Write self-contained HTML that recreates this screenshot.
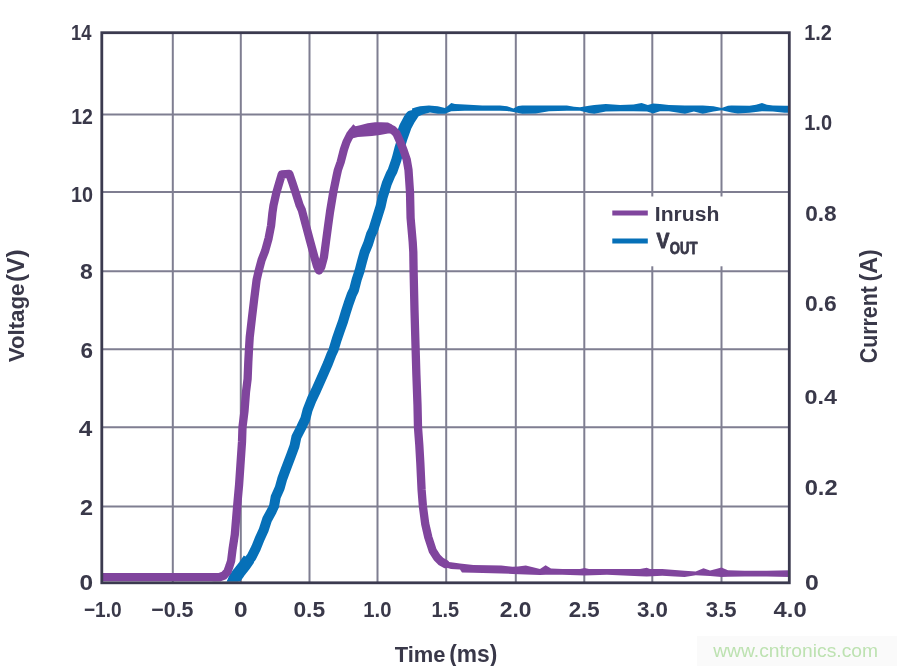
<!DOCTYPE html>
<html><head><meta charset="utf-8"><style>
html,body{margin:0;padding:0;background:#fff;}
body{width:897px;height:666px;overflow:hidden;}
svg{display:block;will-change:transform;}
</style></head><body>
<svg width="897" height="666" viewBox="0 0 897 666">
<rect width="897" height="666" fill="#fff"/>
<path d="M172.8,32.7V582.8M240.8,32.7V582.8M309.5,32.7V582.8M377.5,32.7V582.8M446.2,32.7V582.8M515.8,32.7V582.8M584.3,32.7V582.8M652.3,32.7V582.8M721.5,32.7V582.8M101.8,114.6H789.3M101.8,191.9H789.3M101.8,271.35H789.3M101.8,349.2H789.3M101.8,427.3H789.3M101.8,506.5H789.3" stroke="#7f7e91" stroke-width="2" fill="none"/>
<rect x="586" y="196.5" width="202" height="69.8" fill="#fff"/>
<defs><clipPath id="pc"><rect x="101" y="30" width="689" height="551.5"/></clipPath></defs><g clip-path="url(#pc)">
<polyline points="231.5,584 234.5,578.5 238.8,572.8 245,565 251.5,557 256,548 259.6,539 263.7,530 267.1,519.5 272,510.5 274.1,506 275.7,497 279.7,488 282.2,479 285.5,470 291.2,455 294.5,446 296.4,437 301,428 305.3,419 307.6,410 311.7,399.5 316,390.5 320,381.5 324,372.5 327.9,363.5 331.4,354.5 333.5,350 336.7,339.5 339.8,330.5 343,321.5 345.7,312.5 348.6,303.5 351.8,294.5 354,290 356.7,279.5 359.4,271.4 362,261.5 364.5,252.5 368.2,243.5 371,234.5 373.2,230 376.5,219.5 380.7,206 382.7,197 384.1,192.5 386.8,183.5 390.6,174.5 392.5,171 396.5,159.5 399.5,148 402.7,137.8 406.5,127 410.5,119.5 413.5,115" fill="none" stroke="#0670b8" stroke-width="10" stroke-linejoin="round" stroke-linecap="round"/>
<polyline points="232,585 235,578 239,572.5 244.5,565.5 249,559" fill="none" stroke="#0670b8" stroke-width="12.5" stroke-linejoin="round" stroke-linecap="butt"/>
<polygon points="412,108.5 416,107.3 420,106.3 428.9,105.4 437.8,106.3 445,108 449,105 451.2,103.1 455,104 464.6,104.5 482.4,105.4 500,105.6 507.1,106.3 513.4,108.5 518,106 522.3,105.4 535.7,105.4 549,105.4 566.9,105.4 574,106.7 580,107.2 588.9,105.8 594.3,104.9 605.9,104 620.1,104.9 633.5,104.5 641.6,103.1 647.8,104.9 653.1,103.6 660,104 668.9,104.9 685,105.4 702.8,105.4 713.5,106.3 721.6,108 728,105.8 731.4,105.4 749.5,105.8 756,104.8 762,103 767,104.8 772.9,105.4 784.6,105.8 792,105.8 792,112.8 784.6,112.8 772.9,111.6 762,111.2 749.5,112.8 737.8,113.6 731.4,112.5 721.6,110.3 713.5,111.6 702.8,113.8 693.9,111.6 685,113.8 668.9,111.2 660,111.2 653.1,113.4 647,111.5 633.5,111.2 620.1,111.2 605.9,111.6 594.3,113.8 588.9,113 580,110.7 566.9,110.7 549,111.2 535.7,113.4 522.3,113.8 513.4,112.1 507.1,110.9 500,110.7 482.4,110.7 464.6,110.7 451.2,111.2 445,113.8 437.8,113.8 430,112.5 424,114 418,116.5 413,119" fill="#0670b8"/>
<polyline points="401,137 404.5,127 408.5,119.5 411,116" fill="none" stroke="#0670b8" stroke-width="11" stroke-linejoin="round" stroke-linecap="round"/>
<polyline points="100,577.3 221,577.3" fill="none" stroke="#80459d" stroke-width="8.6" stroke-linejoin="round" stroke-linecap="butt"/>
<polyline points="214,577.3 220,577 224,575.5 227.5,571.5 229.5,566 231.1,561 232.6,549 234.8,534.6 236,520 237.2,505.7 239.1,484.6 240.4,465.5 242,442 242.5,427 244.5,411 246,392 247.6,379 248.3,362 249,349 249.7,337.4 251.9,318.3 254.2,299 256.6,280 258.7,270.8 261.6,260 265.1,251 268.6,238.3 271.1,225.5 272.4,213 273.5,205.4 276.5,192.2 279.2,183 281.8,174.3 289.3,173.8 292.3,182.5 295.5,192.2 299.7,205.4 301.8,210 306,225.8 310.2,241.5 314.5,257.3 317,266 319,270.5 321.3,267 323.9,257.3 326,241.5 328.1,225.8 330,212 333.3,192 336.5,176.3 337.9,170 340.7,162 343.9,149.6 346.5,142 350,135 353,131 360,131 367.6,129.6 375,128.7 380,128.6 388,128.3 392.5,129.5 396.5,133.5 400.8,143.2 403.8,151 406.7,159.5 408.5,170 410,192.2 410.6,218 412.7,242 413.3,252 413.6,271 414.5,310 415.5,345 416.4,375 417.5,405 418,427.6 419.3,445 420.3,462.5 421.6,490 422.9,506.2 425.2,523.8 428.3,537.3 432.7,550.8 437,557.5 441,561.5 445.5,564" fill="none" stroke="#80459d" stroke-width="8.3" stroke-linejoin="round" stroke-linecap="round"/>
<polygon points="346,140 349,131 351.5,126.5 353.3,124.2 355.5,126.3 360,125.2 367.6,123.3 375,122.3 381,122.2 388,122.6 392,124.5 395,128.5 394,133.5 388,133.6 380,135 372,136 365,136.5 358,137 352,138.5 348,141" fill="#80459d"/>
<polygon points="441,558 446,561.8 451,562.2 460,563.5 473.4,565 501.3,565.6 512.5,566.7 518,566.5 525.8,565.6 532,567 540,569 545.6,565.2 551,568.5 562.3,569.1 580,569 584.6,568 589,569.1 606.9,569.1 640,569.1 646.7,567.8 650,569.1 662.3,569.1 675,570 684.6,570.8 695.7,571.4 703.5,568.3 710,570.5 716,569 721.4,567.5 728,570.3 744.6,570.8 766.9,570.8 792,570.3 792,577 766.9,576.4 744.6,576.4 728,576.8 721.4,577 710,576 695.7,575.3 684.6,577 675,576.4 662.3,575.8 646.7,576.4 640,576.2 606.9,574.7 584.6,575.6 562.3,574.7 545.6,574.7 540,575 525.8,574.5 512.5,574 501.3,573.4 473.4,572.8 462,572.5 460,569.5 451,568.9 446,567.5 441,565" fill="#80459d"/>
</g>
<rect x="101.8" y="32.7" width="687.5" height="550.0999999999999" fill="none" stroke="#3b3a4f" stroke-width="2.8"/>
<rect x="697" y="636" width="200" height="30" fill="#fafafa"/>
<text transform="translate(71.00,39.50) scale(0.1838,0.2203)" font-family="&quot;Liberation Sans&quot;, sans-serif" font-weight="bold" font-size="100" fill="#393849">14</text>
<text transform="translate(71.13,123.50) scale(0.1950,0.2243)" font-family="&quot;Liberation Sans&quot;, sans-serif" font-weight="bold" font-size="100" fill="#393849">12</text>
<text transform="translate(71.01,201.60) scale(0.1980,0.2286)" font-family="&quot;Liberation Sans&quot;, sans-serif" font-weight="bold" font-size="100" fill="#393849">10</text>
<text transform="translate(80.11,279.10) scale(0.2300,0.2186)" font-family="&quot;Liberation Sans&quot;, sans-serif" font-weight="bold" font-size="100" fill="#393849">8</text>
<text transform="translate(80.60,357.70) scale(0.2250,0.2186)" font-family="&quot;Liberation Sans&quot;, sans-serif" font-weight="bold" font-size="100" fill="#393849">6</text>
<text transform="translate(78.71,435.50) scale(0.2434,0.2188)" font-family="&quot;Liberation Sans&quot;, sans-serif" font-weight="bold" font-size="100" fill="#393849">4</text>
<text transform="translate(80.10,514.50) scale(0.2347,0.2214)" font-family="&quot;Liberation Sans&quot;, sans-serif" font-weight="bold" font-size="100" fill="#393849">2</text>
<text transform="translate(79.62,589.80) scale(0.2447,0.2157)" font-family="&quot;Liberation Sans&quot;, sans-serif" font-weight="bold" font-size="100" fill="#393849">0</text>
<text transform="translate(804.20,39.70) scale(0.1992,0.2200)" font-family="&quot;Liberation Sans&quot;, sans-serif" font-weight="bold" font-size="100" fill="#393849">1.2</text>
<text transform="translate(804.20,130.30) scale(0.2008,0.2157)" font-family="&quot;Liberation Sans&quot;, sans-serif" font-weight="bold" font-size="100" fill="#393849">1.0</text>
<text transform="translate(805.19,220.90) scale(0.2265,0.2143)" font-family="&quot;Liberation Sans&quot;, sans-serif" font-weight="bold" font-size="100" fill="#393849">0.8</text>
<text transform="translate(804.99,311.20) scale(0.2282,0.2186)" font-family="&quot;Liberation Sans&quot;, sans-serif" font-weight="bold" font-size="100" fill="#393849">0.6</text>
<text transform="translate(804.47,403.60) scale(0.2333,0.2114)" font-family="&quot;Liberation Sans&quot;, sans-serif" font-weight="bold" font-size="100" fill="#393849">0.4</text>
<text transform="translate(804.65,494.50) scale(0.2374,0.2186)" font-family="&quot;Liberation Sans&quot;, sans-serif" font-weight="bold" font-size="100" fill="#393849">0.2</text>
<text transform="translate(804.90,589.80) scale(0.2489,0.2157)" font-family="&quot;Liberation Sans&quot;, sans-serif" font-weight="bold" font-size="100" fill="#393849">0</text>
<text transform="translate(83.94,616.60) scale(0.1910,0.2171)" font-family="&quot;Liberation Sans&quot;, sans-serif" font-weight="bold" font-size="100" fill="#393849">−1.0</text>
<text transform="translate(151.35,616.60) scale(0.2136,0.2171)" font-family="&quot;Liberation Sans&quot;, sans-serif" font-weight="bold" font-size="100" fill="#393849">−0.5</text>
<text transform="translate(234.02,616.60) scale(0.2447,0.2171)" font-family="&quot;Liberation Sans&quot;, sans-serif" font-weight="bold" font-size="100" fill="#393849">0</text>
<text transform="translate(293.39,616.60) scale(0.2280,0.2171)" font-family="&quot;Liberation Sans&quot;, sans-serif" font-weight="bold" font-size="100" fill="#393849">0.5</text>
<text transform="translate(363.29,616.60) scale(0.2023,0.2171)" font-family="&quot;Liberation Sans&quot;, sans-serif" font-weight="bold" font-size="100" fill="#393849">1.0</text>
<text transform="translate(431.50,616.60) scale(0.1992,0.2203)" font-family="&quot;Liberation Sans&quot;, sans-serif" font-weight="bold" font-size="100" fill="#393849">1.5</text>
<text transform="translate(499.82,616.60) scale(0.2280,0.2171)" font-family="&quot;Liberation Sans&quot;, sans-serif" font-weight="bold" font-size="100" fill="#393849">2.0</text>
<text transform="translate(568.73,616.60) scale(0.2226,0.2171)" font-family="&quot;Liberation Sans&quot;, sans-serif" font-weight="bold" font-size="100" fill="#393849">2.5</text>
<text transform="translate(636.95,616.60) scale(0.2233,0.2171)" font-family="&quot;Liberation Sans&quot;, sans-serif" font-weight="bold" font-size="100" fill="#393849">3.0</text>
<text transform="translate(705.86,616.60) scale(0.2209,0.2171)" font-family="&quot;Liberation Sans&quot;, sans-serif" font-weight="bold" font-size="100" fill="#393849">3.5</text>
<text transform="translate(773.62,616.60) scale(0.2383,0.2171)" font-family="&quot;Liberation Sans&quot;, sans-serif" font-weight="bold" font-size="100" fill="#393849">4.0</text>
<text transform="translate(394.78,661.60) scale(0.2194,0.2137)" font-family="&quot;Liberation Sans&quot;, sans-serif" font-weight="bold" font-size="100" fill="#393849">Time</text>
<text transform="translate(449.26,661.60) scale(0.2279,0.2315)" font-family="&quot;Liberation Sans&quot;, sans-serif" font-weight="bold" font-size="100" fill="#393849">(ms)</text>
<text transform="translate(24.40,362.32) rotate(-90) scale(0.2229,0.2205)" font-family="&quot;Liberation Sans&quot;, sans-serif" font-weight="bold" font-size="100" fill="#393849">Voltage</text>
<text transform="translate(24.40,281.92) rotate(-90) scale(0.2431,0.2479)" font-family="&quot;Liberation Sans&quot;, sans-serif" font-weight="bold" font-size="100" fill="#393849">(V)</text>
<text transform="translate(877.20,363.26) rotate(-90) scale(0.2138,0.2314)" font-family="&quot;Liberation Sans&quot;, sans-serif" font-weight="bold" font-size="100" fill="#393849">Current</text>
<text transform="translate(877.20,281.46) rotate(-90) scale(0.2326,0.2425)" font-family="&quot;Liberation Sans&quot;, sans-serif" font-weight="bold" font-size="100" fill="#393849">(A)</text>
<text transform="translate(654.82,220.50) scale(0.2113,0.2096)" font-family="&quot;Liberation Sans&quot;, sans-serif" font-weight="bold" font-size="100" fill="#393849">Inrush</text>
<text transform="translate(656.61,247.50) scale(0.1938,0.2145)" font-family="&quot;Liberation Sans&quot;, sans-serif" font-weight="bold" font-size="100" fill="#393849" stroke="#393849" stroke-width="4" stroke-linejoin="round">V</text>
<text transform="translate(669.78,253.90) scale(0.1311,0.1557)" font-family="&quot;Liberation Sans&quot;, sans-serif" font-weight="bold" font-size="100" fill="#393849" stroke="#393849" stroke-width="5" stroke-linejoin="round">OUT</text>
<text transform="translate(713.20,657.00) scale(0.1927,0.1918)" font-family="&quot;Liberation Sans&quot;, sans-serif" font-weight="normal" font-size="100" fill="#bde2b1">www.cntronics.com</text>
<path d="M612.3,213H647.8" stroke="#80459d" stroke-width="4.8"/>
<path d="M612.3,241H647.8" stroke="#0670b8" stroke-width="5"/>
</svg>
</body></html>
